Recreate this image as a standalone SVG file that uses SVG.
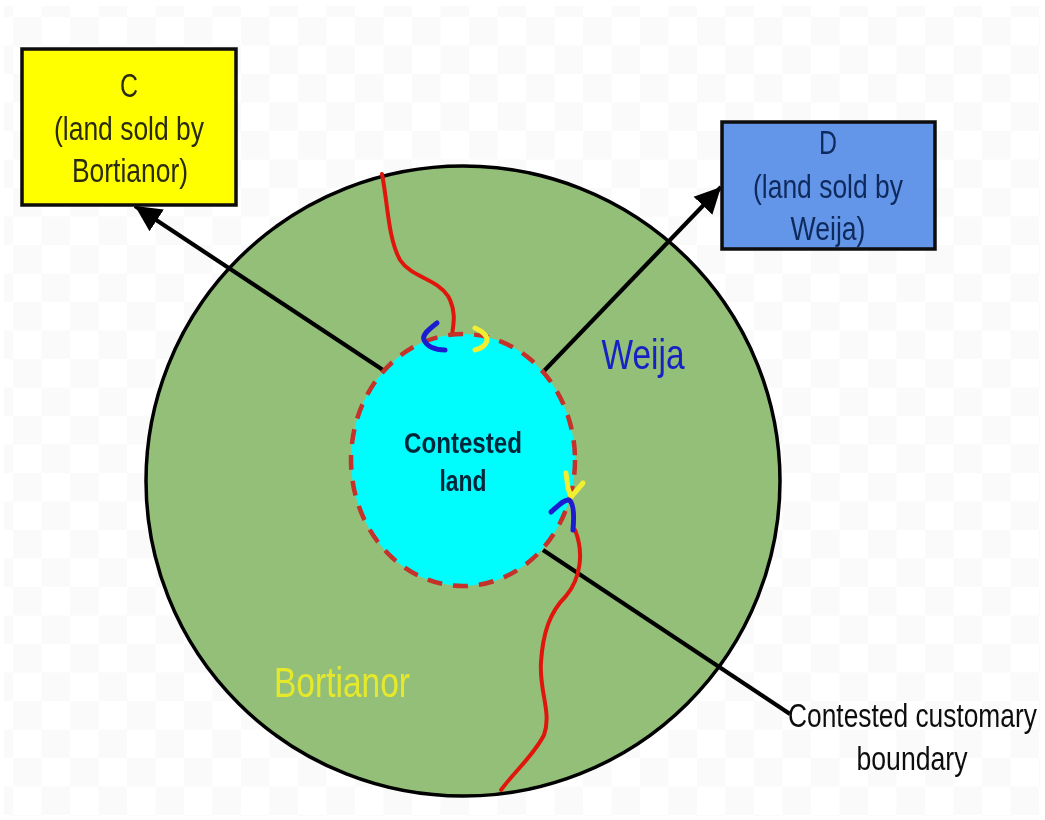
<svg xmlns="http://www.w3.org/2000/svg" width="1045" height="820" viewBox="0 0 1045 820">
<defs>
<pattern id="checker" x="13" y="17" width="57" height="57" patternUnits="userSpaceOnUse">
<rect x="0" y="0" width="28.5" height="28.5" fill="#fafafa"/>
<rect x="28.5" y="28.5" width="28.5" height="28.5" fill="#fafafa"/>
</pattern>
<marker id="arrow" markerUnits="userSpaceOnUse" markerWidth="30" markerHeight="30" refX="26" refY="15" orient="auto">
<path d="M0 2 L26 15 L0 28 Z" fill="#000"/>
</marker>
<filter id="soft" x="-5%" y="-5%" width="110%" height="110%"><feGaussianBlur stdDeviation="0.6"/></filter>
</defs>
<style>
text{font-family:"Liberation Sans",Arial,sans-serif;text-anchor:middle}
.box{stroke:#0a0a0a;stroke-width:3.5}
.lbl{font-size:34px}
.big{font-size:42px}
.bold{font-size:29px;font-weight:bold}
.conn{fill:none;stroke:#000;stroke-width:4.2}
.red{fill:none;stroke:#e0170f;stroke-width:4;stroke-linecap:round}
.hook{fill:none;stroke-width:5;stroke-linecap:round;stroke-linejoin:round}
.start{text-anchor:start}
</style>
<rect width="1045" height="820" fill="#fff"/>
<rect x="4" y="6" width="1036" height="810" fill="url(#checker)"/>
<g filter="url(#soft)">
<g id="territory">
<ellipse cx="463" cy="481" rx="317" ry="315" fill="#93bf78" stroke="#000" stroke-width="3.5"/>
<text class="big" x="342" y="697" fill="#e6e92c" textLength="136" lengthAdjust="spacingAndGlyphs">Bortianor</text>
<text class="big" x="643" y="369" fill="#1422c4" textLength="83" lengthAdjust="spacingAndGlyphs">Weija</text>
</g>
<g id="connectors">
<path class="conn" d="M383 370 L135 206" marker-end="url(#arrow)"/>
<path class="conn" d="M543 372 L721 187" marker-end="url(#arrow)"/>
<path class="conn" d="M543 550 L790 714"/>
<path class="red" d="M382 174 C388 205 388 238 400 260 C412 278 436 278 448 296 C456 310 454 322 452 335"/>
<path class="red" d="M575 530 C584 552 581 578 566 596 C550 612 543 632 541 662 C539 692 552 712 544 735 C534 755 514 772 501 790"/>
</g>
<g id="contested-land">
<ellipse cx="463" cy="460" rx="112" ry="126" fill="#00fdfd"/>
<ellipse cx="463" cy="460" rx="112" ry="126" fill="none" stroke="#c5302a" stroke-width="4.5" stroke-dasharray="15 11"/>
<text class="bold" x="463" y="453" fill="#06263a" textLength="118" lengthAdjust="spacingAndGlyphs">Contested</text>
<text class="bold" x="463" y="491" fill="#06263a" textLength="47" lengthAdjust="spacingAndGlyphs">land</text>
</g>
<g id="boundary-marks">
<path class="hook" stroke="#1a1fd0" d="M437 323 C428 330 422 335 424 340 C428 348 436 350 445 350"/>
<path class="hook" stroke="#f2ee30" d="M475 328 C482 331 488 336 487 341 C485 346 479 349 475 350"/>
<path class="hook" stroke="#f2ee30" d="M566 473 L568 488 L571 497 L583 483"/>
<path class="hook" stroke="#1a1fd0" d="M551 512 C558 506 564 499 569 500 C574 503 574 518 573 530"/>
</g>
<g id="node-c">
<rect class="box" x="22" y="49" width="214" height="156" fill="#ffff00"/>
<text class="lbl" x="129" y="97" fill="#2c2c10" textLength="18" lengthAdjust="spacingAndGlyphs">C</text>
<text class="lbl" x="129" y="140" fill="#2c2c10" textLength="150" lengthAdjust="spacingAndGlyphs">(land sold by</text>
<text class="lbl" x="130" y="182" fill="#2c2c10" textLength="116" lengthAdjust="spacingAndGlyphs">Bortianor)</text>
</g>
<g id="node-d">
<rect class="box" x="722" y="122" width="213" height="127" fill="#6495e8"/>
<text class="lbl" x="828" y="154" fill="#102a5c" textLength="18" lengthAdjust="spacingAndGlyphs">D</text>
<text class="lbl" x="828" y="198" fill="#102a5c" textLength="150" lengthAdjust="spacingAndGlyphs">(land sold by</text>
<text class="lbl" x="828" y="240" fill="#102a5c" textLength="75" lengthAdjust="spacingAndGlyphs">Weija)</text>
</g>
<g id="label-boundary">
<text class="lbl start" transform="translate(788 727) scale(.775 1)" fill="#111">Contested customary</text>
<text class="lbl" x="912" y="770" fill="#111" textLength="111" lengthAdjust="spacingAndGlyphs">boundary</text>
</g>
</g>
</svg>
